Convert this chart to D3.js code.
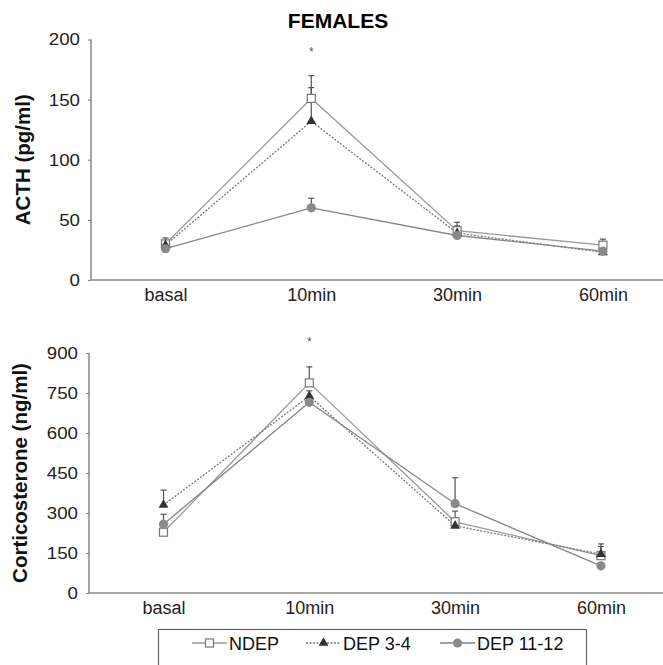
<!DOCTYPE html>
<html><head><meta charset="utf-8">
<script src="https://cdn.jsdelivr.net/npm/d3@7"></script>
<style>
body{margin:0;background:#fff;}
svg{display:block;font-family:"Liberation Sans",Arial,sans-serif;}
</style></head>
<body>
<svg id="c" width="663" height="665"></svg>
<script>
const categories = ["basal","10min","30min","60min"];
const seriesNames = ["NDEP","DEP 3-4","DEP 11-12"];
// ACTH (pg/ml)
const acthNDEP = [30,151,41,29];
const acthNDEPerr = [5,19,7,5];
const acthDEP34 = [29,132,39,23];
const acthDEP34err = [4,28,6,3];
const acthDEP1112 = [26,60,37,24];
const acthDEP1112err = [3,8,4,3];
const acthTicks = [0,50,100,150,200];
// Corticosterone (ng/ml)
const cortNDEP = [228,788,267,140];
const cortNDEPerr = [10,60,40,44];
const cortDEP34 = [330,738,252,146];
const cortDEP34err = [56,20,15,28];
const cortDEP1112 = [258,715,335,102];
const cortDEP1112err = [37,15,97,10];
const cortTicks = [0,150,300,450,600,750,900];
const title = "FEMALES";
const asteriskCat = "10min";
const acthAsterisk = 191;
const cortAsterisk = 950;

const svg = d3.select("#c");
const styles = [
  {line:"#9a9a9a", dash:null, marker:"square"},
  {line:"#7a7a7a", dash:"2,1.5", marker:"triangle"},
  {line:"#858585", dash:null, marker:"circle"}
];

svg.append("text").attr("x",338).attr("y",28).attr("text-anchor","middle")
  .attr("font-weight","bold").attr("font-size",21).text(title);

function drawMarker(g, type, cx, cy){
  if(type==="square"){
    g.append("rect").attr("x",cx-4).attr("y",cy-4).attr("width",8).attr("height",8)
      .attr("fill","#fff").attr("stroke","#777").attr("stroke-width",1.2);
  } else if(type==="triangle"){
    g.append("path").attr("d",d3.symbol(d3.symbolTriangle,42)()).attr("transform",`translate(${cx},${cy})`)
      .attr("fill","#333");
  } else {
    g.append("circle").attr("cx",cx).attr("cy",cy).attr("r",4.6).attr("fill","#8a8a8a");
  }
}

function panel(opts){
  const {axisX, yTop, yBottom, ticks, data, errs, ylabel, ylabelX, aster} = opts;
  const x = d3.scalePoint().domain(categories).range([axisX+74.5, axisX+74.5+3*145.8]);
  const y = d3.scaleLinear().domain([ticks[0], ticks[ticks.length-1]]).range([yBottom, yTop]);
  const g = svg.append("g");
  // y axis
  const ya = g.append("g").attr("transform",`translate(${axisX},0)`)
    .call(d3.axisLeft(y).tickValues(ticks).tickSize(3).tickPadding(8));
  ya.select(".domain").attr("stroke","#888").attr("stroke-width",1.5).attr("d",`M0,${yTop}V${yBottom}`);
  ya.selectAll(".tick line").attr("stroke","#888").attr("stroke-width",1.2);
  ya.selectAll(".tick text").attr("font-size",17).attr("fill","#222")
    .attr("font-family","Liberation Sans, Arial, sans-serif")
    .attr("x",-10).attr("transform","scale(1.1,1)");
  // x axis
  const xa = g.append("g").attr("transform",`translate(0,${yBottom})`)
    .call(d3.axisBottom(x).tickSize(0).tickPadding(8));
  xa.select(".domain").attr("stroke","#888").attr("stroke-width",1.5).attr("d",`M${axisX},0H663`);
  xa.selectAll(".tick text").attr("font-size",18).attr("fill","#222").attr("dy","0.71em").attr("font-family","Liberation Sans, Arial, sans-serif");
  // y label
  g.append("text").attr("transform",`translate(${ylabelX},${(yTop+yBottom)/2}) rotate(-90)`)
    .attr("text-anchor","middle").attr("font-weight","bold").attr("font-size",20.5).attr("fill","#111").text(ylabel);
  // asterisk
  g.append("text").attr("x",x(asteriskCat)).attr("y",y(aster)+6).attr("text-anchor","middle")
    .attr("font-size",12).attr("fill","#555").text("*");
  // lines
  data.forEach((vals,i)=>{
    const line = d3.line().x((d,j)=>x(categories[j])).y(d=>y(d));
    g.append("path").datum(vals).attr("d",line).attr("fill","none")
      .attr("stroke",styles[i].line).attr("stroke-width",1.3)
      .attr("stroke-dasharray",styles[i].dash);
  });
  // error bars
  data.forEach((vals,i)=>{
    vals.forEach((v,j)=>{
      const cx = x(categories[j]);
      const top = y(v+errs[i][j]);
      g.append("line").attr("x1",cx).attr("x2",cx).attr("y1",y(v)).attr("y2",top).attr("stroke","#555").attr("stroke-width",1.2);
      g.append("line").attr("x1",cx-3).attr("x2",cx+3).attr("y1",top).attr("y2",top).attr("stroke","#555").attr("stroke-width",1.2);
    });
  });
  // markers
  data.forEach((vals,i)=>{
    vals.forEach((v,j)=> drawMarker(g, styles[i].marker, x(categories[j]), y(v)));
  });
}

panel({axisX:91, yTop:39.5, yBottom:280, ticks:acthTicks,
  data:[acthNDEP,acthDEP34,acthDEP1112], errs:[acthNDEPerr,acthDEP34err,acthDEP1112err],
  ylabel:"ACTH (pg/ml)", ylabelX:30, aster:acthAsterisk});
panel({axisX:89, yTop:353, yBottom:593, ticks:cortTicks,
  data:[cortNDEP,cortDEP34,cortDEP1112], errs:[cortNDEPerr,cortDEP34err,cortDEP1112err],
  ylabel:"Corticosterone (ng/ml)", ylabelX:27, aster:cortAsterisk});

// legend
const lg = svg.append("g");
lg.append("rect").attr("x",158.5).attr("y",629.5).attr("width",428).attr("height",50)
  .attr("fill","#fff").attr("stroke","#666").attr("stroke-width",1.2);
const legendX = [192,306,440];
seriesNames.forEach((name,i)=>{
  const x0 = legendX[i];
  lg.append("line").attr("x1",x0).attr("x2",x0+35).attr("y1",643).attr("y2",643)
    .attr("stroke",styles[i].line).attr("stroke-width",1.3).attr("stroke-dasharray",styles[i].dash);
  drawMarker(lg, styles[i].marker, x0+17.5, 643);
  lg.append("text").attr("x",x0+37).attr("y",649.5).attr("font-size",18).attr("fill","#111").text(name);
});
</script>
</body></html>
